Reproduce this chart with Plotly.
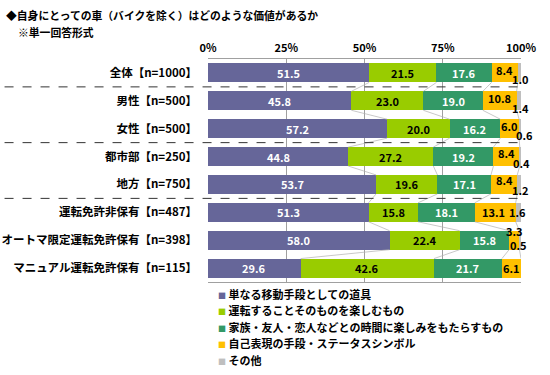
import plotly.graph_objects as go

categories = ["全体【n=1000】", "男性【n=500】", "女性【n=500】", "都市部【n=250】", "地方【n=750】",
              "運転免許非保有【n=487】", "オートマ限定運転免許保有【n=398】", "マニュアル運転免許保有【n=115】"]
series_names = ["単なる移動手段としての道具", "運転することそのものを楽しむもの",
                "家族・友人・恋人などとの時間に楽しみをもたらすもの", "自己表現の手段・ステータスシンボル", "その他"]
s_tool = [51.5, 45.8, 57.2, 44.8, 53.7, 51.3, 58.0, 29.6]
s_drive = [21.5, 23.0, 20.0, 27.2, 19.6, 15.8, 22.4, 42.6]
s_family = [17.6, 19.0, 16.2, 19.2, 17.1, 18.1, 15.8, 21.7]
s_status = [8.4, 10.8, 6.0, 8.4, 8.4, 13.1, 3.3, 6.1]
s_other = [1.0, 1.4, 0.6, 0.4, 1.2, 1.6, 0.5, 0.0]
tick_vals = [0, 25, 50, 75, 100]
tick_text = ["0%", "25%", "50%", "75%", "100%"]

colors = ["#666699", "#99CC00", "#339966", "#FFC000", "#BFBFBF"]
text_colors = ["white", "black", "white", "black", "black"]
FONT = "Noto Sans CJK JP"
values = [s_tool, s_drive, s_family, s_status, s_other]
rows = list(range(len(categories)))
BW = 0.68
LBL = dict(size=11, family=FONT, weight="bold")

fig = go.Figure()

# cumulative boundaries
cum = [[0.0] * len(categories)]
for s in values:
    cum.append([c + v for c, v in zip(cum[-1], s)])

# series connector lines between rows
for k in range(1, len(values)):
    xs, ys = [], []
    for i in range(len(categories) - 1):
        xs += [cum[k][i], cum[k][i + 1], None]
        ys += [i + BW / 2, i + 1 - BW / 2, None]
    fig.add_trace(go.Scatter(x=xs, y=ys, mode="lines", line=dict(color="#B0B0B0", width=0.7),
                             showlegend=False, hoverinfo="skip"))

for k, (name, s) in enumerate(zip(series_names, values)):
    fig.add_trace(go.Bar(
        y=rows, x=s, orientation="h", width=BW, name=name,
        marker=dict(color=colors[k], line=dict(width=0)),
        showlegend=False, hoverinfo="skip"))

# value labels for the three large segments
for k in range(3):
    for i in rows:
        fig.add_annotation(x=cum[k][i] + values[k][i] / 2, y=i, text=f"{values[k][i]:.1f}",
                           showarrow=False, font=dict(color=text_colors[k], **LBL))

# small-segment labels (yellow and gray), offsets per row
status_yshift = [3, 3, 3, 4, 4, 0, 9.5, 0]
other_yshift = [-6, -7, -6, -6, -6, 0, -4.5, 0]
other_xshift = [0, 0, 4, 1, 0, 3, -2, 0]
status_xshift = [0, 0, 0, 0, 0, -2, 0, 0]
for i in rows:
    fig.add_annotation(x=cum[3][i] + s_status[i] / 2, y=i, text=f"{s_status[i]:.1f}", showarrow=False,
                       yshift=status_yshift[i], xshift=status_xshift[i], font=dict(color="black", **LBL))
    if s_other[i] > 0:
        xpos = cum[4][i] - s_other[i] / 2 + 0.3 if i == 5 else 99.7
        fig.add_annotation(x=xpos, y=i, text=f"{s_other[i]:.1f}", showarrow=False,
                           yshift=other_yshift[i], xshift=other_xshift[i],
                           font=dict(color="black", **LBL))

# group separators
for ysep in [0.5, 2.5, 4.5]:
    fig.add_shape(type="line", xref="paper", yref="y", x0=-0.65, x1=1.0, y0=ysep, y1=ysep,
                  line=dict(color="#333333", width=1, dash="dash"))

# legend drawn as text lines with coloured squares
for k, name in enumerate(series_names):
    fig.add_annotation(xref="paper", yref="paper", x=0.026, y=0, yshift=-11.5 - 16.6 * k,
                       xanchor="left", yanchor="middle", showarrow=False,
                       text=f"<span style='color:{colors[k]};font-size:8px'>■</span> {name}",
                       font=dict(size=11, family=FONT, color="black", weight="bold"))

# title
fig.add_annotation(xref="paper", yref="paper", x=-0.652, y=1.0, yshift=44, xanchor="left", yanchor="middle",
                   text="◆自身にとっての車（バイクを除く）はどのような価値があるか", showarrow=False,
                   font=dict(size=10.8, family=FONT, color="black", weight="bold"))
fig.add_annotation(xref="paper", yref="paper", x=-0.614, y=1.0, yshift=27.5, xanchor="left", yanchor="middle",
                   text="※単一回答形式", showarrow=False,
                   font=dict(size=10.8, family=FONT, color="black", weight="bold"))

fig.update_layout(
    width=550, height=375, margin=dict(l=208, r=29, t=58.5, b=92.5, autoexpand=False),
    barmode="stack", bargap=0.32,
    paper_bgcolor="white", plot_bgcolor="white",
    font=dict(family=FONT, size=11.5, color="black", weight="bold"),
    showlegend=False,
    xaxis=dict(range=[0, 100], side="top", tickvals=tick_vals, ticktext=tick_text, automargin=False,
               showgrid=True, gridcolor="#A0A0A0", gridwidth=1, showline=True, mirror=True,
               linecolor="#A0A0A0", linewidth=1, zeroline=False, ticks="", ticklabelstandoff=2,
               tickfont=dict(size=11, family=FONT, weight="bold")),
    yaxis=dict(range=[7.5, -0.5], tickvals=rows, ticktext=categories, showgrid=False, automargin=False,
               zeroline=False, showline=False, ticks="", ticklabelstandoff=10,
               tickfont=dict(size=11.5, family=FONT, weight="bold")),
)

fig.write_html("out.html", config={"displayModeBar": False},
               post_script="document.body.style.margin='0';")
